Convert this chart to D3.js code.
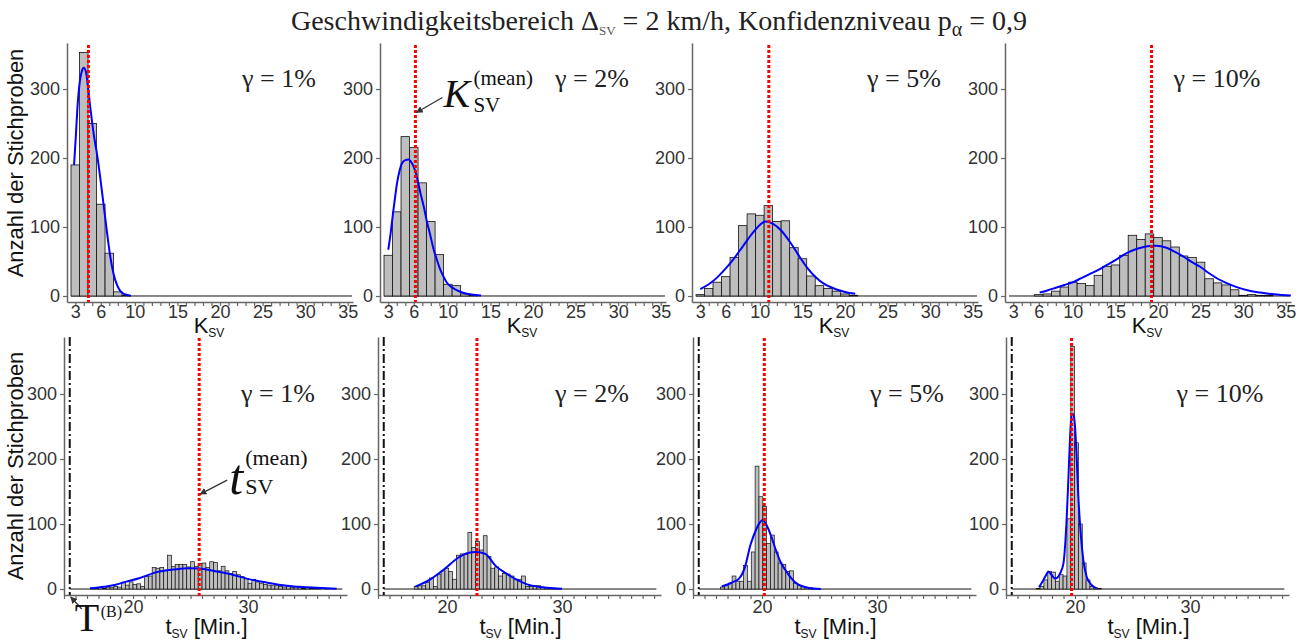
<!DOCTYPE html>
<html>
<head>
<meta charset="utf-8">
<script src="https://cdn.jsdelivr.net/npm/d3@7"></script>
<style>
  html, body { margin: 0; padding: 0; background: #fff; }
  svg { display: block; }
</style>
</head>
<body>
<svg id="chart" width="1311" height="641"></svg>
<script>
// ---------- data ----------
const gammaLabels = ["γ = 1%", "γ = 2%", "γ = 5%", "γ = 10%"];
const yTicks = [0, 100, 200, 300];
const kTickLabels = [3, 6, 10, 15, 20, 25, 30, 35];
const tTickLabels = [20, 30];

// K_SV histogram: bins of width 1 centred on these values
const kBins = [3,4,5,6,7,8,9,10,11,12,13,14,15,16,17,18,19,20,21,22,23,24,25,26,27,28,29,30,31,32,33,34,35];
const kCountsG1 = [190,353,250,133,62,6,1,0,0,0,0,0,0,0,0,0,0,0,0,0,0,0,0,0,0,0,0,0,0,0,0,0,0];
const kCountsG2 = [59,122,231,215,164,108,60,17,15,3,1,0,0,0,0,0,0,0,0,0,0,0,0,0,0,0,0,0,0,0,0,0,0];
const kCountsG3 = [2,11,20,28,56,102,119,117,131,108,109,70,54,29,15,11,7,3,1,0,0,0,0,0,0,0,0,0,0,0,0,0,0];
const kCountsG4 = [0,0,0,2,3,7,13,20,18,15,30,43,45,59,88,82,90,85,80,71,58,56,49,25,19,16,9,1,2,1,1,0,0];

// smoothed density curves (scaled to counts) for K_SV
const kCurveG1 = [[2.86,190],[3.05,228],[3.25,272],[3.55,312],[3.8,327],[4.0,331],[4.25,325],[4.5,302],[4.75,275],[5.0,250],[5.25,228],[5.5,210],[5.9,175],[6.3,135],[6.7,95],[7.1,58],[7.5,32],[7.9,16],[8.3,7],[8.8,2.5],[9.5,0.5]];
const kCurveG2 = [[3.0,67],[3.3,93],[3.55,119],[3.8,143],[4.05,165],[4.3,180],[4.6,192],[5.0,197],[5.4,198],[5.8,192],[6.15,182],[6.5,165],[6.8,148],[7.2,128],[7.5,110],[7.9,90],[8.3,69],[8.7,53],[9.05,40],[9.45,29],[9.85,20],[10.3,14],[10.8,10],[11.4,6.5],[12.0,4],[12.6,2.5],[13.3,1.3],[13.9,0.8]];
const kCurveG3 = [[3,10],[4,17],[5,27],[6,40],[7,55],[8,72],[9,89],[10,103],[10.65,108],[11.5,105],[12.5,95],[13.5,79],[14.5,60],[15.5,42],[16.5,28],[17.5,18],[18.5,12],[19.5,7.5],[20.5,4.5],[21.2,3.4]];
const kCurveG4 = [[6.1,5],[7,8],[8,12],[9,16],[10,20],[11,26],[12,32],[13,38],[14,45],[15,52],[16,60],[17,66],[18,70],[19,72.5],[19.8,73],[21,70],[22,64],[23,57],[24,49],[25,42],[26,33],[27,25],[28,19],[29,14],[30,10],[31,7],[32,5],[33,3.4],[34,2],[35,1],[35.6,0.6]];
const kMeans = [4.55, 6.19, 11.05, 19.24];
const kSpan = [2.5, 35.5];

// t_SV histogram: bins of 1/3 minute starting at tBinStart
const tBinWidth = 1 / 3;
const tBinStart = [16.0, 17.15, 16.4, 16.63];
const tCountsG1 = [0,1,1,2,1,3,2,4,3,10,6,11,7,8,4,19,20,33,32,33,29,52,35,38,38,38,34,42,35,39,40,33,42,41,28,35,28,24,27,22,19,16,9,15,11,9,7,6,5,5,4,3,4,2,3,2,1,2,1,1,1,0,1];
const tCountsG2 = [4,5,5,10,17,4,22,28,32,27,15,52,54,53,87,64,73,60,82,50,32,34,20,24,23,20,15,15,20,4,4,5,5,3,2,1,1,1];
const tCountsG3 = [3,5,9,20,12,12,36,12,57,189,142,127,70,83,57,40,38,27,28,9,5,4,2,2,1,1];
const tCountsG4 = [1,4,14,27,26,12,22,20,108,373,225,100,40,14,4,2,1];

const tCurveG1 = [[16.26,1],[17.5,3.5],[18.5,6.5],[19.16,10],[20.6,17],[22.06,26],[23.5,30],[24.9,32],[25.8,31.5],[26.98,28],[28.43,23],[29.88,16],[31.6,10],[33.37,5],[35.1,2.6],[36.84,1],[37.7,0.5]];
const tCurveG2 = [[17.24,3.6],[18.55,14.9],[19.85,31.8],[20.87,47],[21.74,55],[22.55,57],[23.33,54],[24.2,36],[25.22,23],[26.09,14],[26.96,7.2],[28.1,3.1],[29.27,1],[30.0,0.5]];
const tCurveG3 = [[16.5,4],[17.0,7],[17.5,11],[18.0,16],[18.5,33],[19.0,68],[19.5,92],[19.8,102],[20.05,106],[20.4,98],[20.8,81],[21.2,60],[21.6,42],[22.0,30],[22.4,20],[22.9,10],[23.4,5],[24.0,2],[24.5,0.8],[25.1,0.2]];
const tCurveG4 = [[16.87,2.6],[17.25,14],[17.5,22],[17.68,27],[17.97,21.5],[18.26,16],[18.5,18],[18.7,24],[18.99,39],[19.15,70],[19.28,111],[19.42,168],[19.57,234],[19.71,270],[19.86,268],[20.0,250],[20.14,204],[20.29,142],[20.52,80],[20.72,45],[21.01,19],[21.45,6],[21.88,1]];
const tMeans = [25.75, 22.6, 20.2, 19.7];
const tB = 14.5;
const tSpan = [14.5, 38.2];

// ---------- layout ----------
const serif = "'Liberation Serif','Times New Roman',serif";
const sans = "'Liberation Sans',Arial,sans-serif";
const topLeft = [67, 380, 692, 1005], topWidth = 286, topRows = [43, 302];
const botLeft = [64, 378, 693, 1006], botWidth = 283, botRows = [337, 595];
const kDomain = [2.03, 35.62];
const tDomain = [14.0, 38.6];
const yTopDomain = [-8.7, 366.7];
const yBotDomain = [-9.2, 387.7];

const svg = d3.select("#chart");
const defs = svg.append("defs");
defs.append("marker")
  .attr("id", "arrowHead").attr("viewBox", "0 0 10 10")
  .attr("refX", 9).attr("refY", 5)
  .attr("markerWidth", 7).attr("markerHeight", 7)
  .attr("markerUnits", "userSpaceOnUse")
  .attr("orient", "auto")
  .append("path").attr("d", "M0,0 L10,5 L0,10 z").attr("fill", "#333");

const kCounts = [kCountsG1, kCountsG2, kCountsG3, kCountsG4];
const kCurves = [kCurveG1, kCurveG2, kCurveG3, kCurveG4];
const tCounts = [tCountsG1, tCountsG2, tCountsG3, tCountsG4];
const tCurves = [tCurveG1, tCurveG2, tCurveG3, tCurveG4];

function drawAxes(g, x, y, rows, minorTicks, labelled, bottomLabelY) {
  const ax = g.append("g").attr("transform", `translate(${x.range()[0]},0)`)
    .call(d3.axisLeft(y).tickValues(yTicks).tickSize(4).tickSizeOuter(0).tickPadding(3));
  ax.select(".domain").attr("stroke", "#666").attr("stroke-width", 1.5);
  ax.selectAll(".tick line").attr("stroke", "#666").attr("stroke-width", 1.2);
  ax.selectAll(".tick text").attr("font-family", sans).attr("font-size", 18).attr("fill", "#333");

  const bx = g.append("g").attr("transform", `translate(0,${rows[1]})`)
    .call(d3.axisBottom(x).tickValues(minorTicks).tickSize(4).tickSizeOuter(0)
      .tickFormat(d => labelled.includes(d) ? d : ""));
  bx.select(".domain").attr("stroke", "#666").attr("stroke-width", 1.5);
  bx.selectAll(".tick line").attr("stroke", "#666").attr("stroke-width", 1.2);
  bx.selectAll(".tick text").attr("font-family", sans).attr("font-size", 18).attr("fill", "#333")
    .attr("y", bottomLabelY).attr("dy", 0);
}

const curveLine = (x, y) => d3.line().x(d => x(d[0])).y(d => y(d[1])).curve(d3.curveMonotoneX);

// ---------- top row: K_SV ----------
for (let i = 0; i < 4; i++) {
  const L = topLeft[i];
  const x = d3.scaleLinear().domain(kDomain).range([L, L + topWidth]);
  const y = d3.scaleLinear().domain(yTopDomain).range([topRows[1], topRows[0]]);
  const g = svg.append("g");

  drawAxes(g, x, y, topRows, kBins, kTickLabels, 16);

  // zero-count bins appear as the baseline
  g.append("line").attr("x1", x(kSpan[0])).attr("x2", x(kSpan[1]))
    .attr("y1", y(0)).attr("y2", y(0)).attr("stroke", "#111").attr("stroke-width", 1);

  const bars = kBins.map((c, j) => ({ x0: c - 0.5, x1: c + 0.5, n: kCounts[i][j] })).filter(d => d.n > 0);
  g.selectAll("rect.bar").data(bars).enter().append("rect")
    .attr("x", d => x(d.x0)).attr("width", d => x(d.x1) - x(d.x0))
    .attr("y", d => y(d.n)).attr("height", d => y(0) - y(d.n))
    .attr("fill", "#bebebe").attr("stroke", "#111").attr("stroke-width", 0.8);

  g.append("path").datum(kCurves[i]).attr("d", curveLine(x, y))
    .attr("fill", "none").attr("stroke", "#0000ff").attr("stroke-width", 2);

  g.append("line").attr("x1", x(kMeans[i])).attr("x2", x(kMeans[i]))
    .attr("y1", topRows[0] + 2).attr("y2", topRows[1])
    .attr("stroke", "#ff0000").attr("stroke-width", 3).attr("stroke-dasharray", "3,2");

  g.append("text").attr("x", L + 212).attr("y", 87).attr("text-anchor", "middle")
    .attr("font-family", serif).attr("font-size", 26).attr("fill", "#222").text(gammaLabels[i]);

  const kt = g.append("text").attr("x", L + topWidth / 2 - 1).attr("y", 333).attr("text-anchor", "middle")
    .attr("font-family", sans).attr("font-size", 22).attr("fill", "#111");
  kt.append("tspan").text("K");
  kt.append("tspan").attr("font-size", 12).attr("dy", 4).text("SV");
}

// ---------- bottom row: t_SV ----------
const tMinor = [14,15,16,17,18,19,20,21,22,23,24,25,26,27,28,29,30,31,32,33,34,35,36,37,38];
for (let i = 0; i < 4; i++) {
  const L = botLeft[i];
  const x = d3.scaleLinear().domain(tDomain).range([L, L + botWidth]);
  const y = d3.scaleLinear().domain(yBotDomain).range([botRows[1], botRows[0]]);
  const g = svg.append("g");

  drawAxes(g, x, y, botRows, tMinor, tTickLabels, 18);

  g.append("line").attr("x1", x(tSpan[0])).attr("x2", x(tSpan[1]))
    .attr("y1", y(0)).attr("y2", y(0)).attr("stroke", "#111").attr("stroke-width", 1);

  const bars = tCounts[i].map((n, j) => ({
    x0: tBinStart[i] + j * tBinWidth, x1: tBinStart[i] + (j + 1) * tBinWidth, n
  })).filter(d => d.n > 0);
  g.selectAll("rect.bar").data(bars).enter().append("rect")
    .attr("x", d => x(d.x0)).attr("width", d => x(d.x1) - x(d.x0))
    .attr("y", d => y(d.n)).attr("height", d => y(0) - y(d.n))
    .attr("fill", "#bebebe").attr("stroke", "#111").attr("stroke-width", 0.7);

  g.append("path").datum(tCurves[i]).attr("d", curveLine(x, y))
    .attr("fill", "none").attr("stroke", "#0000ff").attr("stroke-width", 2);

  g.append("line").attr("x1", x(tMeans[i])).attr("x2", x(tMeans[i]))
    .attr("y1", botRows[0] + 1).attr("y2", botRows[1] + 3)
    .attr("stroke", "#ff0000").attr("stroke-width", 3).attr("stroke-dasharray", "3,2");

  g.append("line").attr("x1", x(tB)).attr("x2", x(tB))
    .attr("y1", botRows[0]).attr("y2", botRows[1])
    .attr("stroke", "#111").attr("stroke-width", 2).attr("stroke-dasharray", "9,3,2,3");

  g.append("text").attr("x", L + 214).attr("y", 402).attr("text-anchor", "middle")
    .attr("font-family", serif).attr("font-size", 26).attr("fill", "#222").text(gammaLabels[i]);

  const tt = g.append("text").attr("x", L + botWidth / 2 + 1).attr("y", 634).attr("text-anchor", "middle")
    .attr("font-family", sans).attr("font-size", 22).attr("fill", "#111");
  tt.append("tspan").text("t");
  tt.append("tspan").attr("font-size", 12).attr("dy", 4).text("SV");
  tt.append("tspan").attr("dy", -4).text(" [Min.]");
}

// ---------- y-axis titles ----------
[[23, 163], [23, 466]].forEach(([px, py]) => {
  svg.append("text").attr("transform", `translate(${px},${py}) rotate(-90)`)
    .attr("text-anchor", "middle").attr("font-family", sans).attr("font-size", 22)
    .attr("fill", "#111").text("Anzahl der Stichproben");
});

// ---------- title ----------
const title = svg.append("text").attr("x", 659).attr("y", 30).attr("text-anchor", "middle")
  .attr("font-family", serif).attr("font-size", 28).attr("fill", "#222");
title.append("tspan").text("Geschwindigkeitsbereich Δ");
title.append("tspan").attr("font-size", 13).attr("dy", 5).attr("fill", "#555").text("SV");
title.append("tspan").attr("dy", -5).text(" = 2 km/h, Konfidenzniveau p");
title.append("tspan").attr("font-size", 20).attr("dy", 6).text("α");
title.append("tspan").attr("dy", -6).text(" = 0,9");

// ---------- annotations ----------
{
  // K_SV^(mean) pointing to the mean line of panel γ = 2%
  const x = d3.scaleLinear().domain(kDomain).range([topLeft[1], topLeft[1] + topWidth]);
  const y = d3.scaleLinear().domain(yTopDomain).range([topRows[1], topRows[0]]);
  const tipX = x(kMeans[1]), tipY = y(266);
  svg.append("line").attr("x1", tipX + 27).attr("y1", tipY - 15).attr("x2", tipX + 1).attr("y2", tipY)
    .attr("stroke", "#333").attr("stroke-width", 1.3).attr("marker-end", "url(#arrowHead)");
  const a = svg.append("g").attr("font-family", serif).attr("fill", "#111");
  a.append("text").attr("x", tipX + 28).attr("y", 107).attr("font-size", 40).attr("font-style", "italic").text("K");
  a.append("text").attr("x", tipX + 58).attr("y", 85).attr("font-size", 21).text("(mean)");
  a.append("text").attr("x", tipX + 58).attr("y", 112).attr("font-size", 21).text("SV");
}
{
  // t_SV^(mean) pointing to the mean line of panel γ = 1%
  const x = d3.scaleLinear().domain(tDomain).range([botLeft[0], botLeft[0] + botWidth]);
  const y = d3.scaleLinear().domain(yBotDomain).range([botRows[1], botRows[0]]);
  const tipX = x(tMeans[0]), tipY = y(146);
  svg.append("line").attr("x1", tipX + 28).attr("y1", tipY - 14).attr("x2", tipX + 1).attr("y2", tipY)
    .attr("stroke", "#333").attr("stroke-width", 1.3).attr("marker-end", "url(#arrowHead)");
  const a = svg.append("g").attr("font-family", serif).attr("fill", "#111");
  a.append("text").attr("x", tipX + 30).attr("y", 494).attr("font-size", 50).attr("font-style", "italic").text("t");
  a.append("text").attr("x", tipX + 46).attr("y", 465).attr("font-size", 22).text("(mean)");
  a.append("text").attr("x", tipX + 46).attr("y", 494).attr("font-size", 22).text("SV");

  // T^(B) marking the dash-dot reference line
  const bx = x(tB);
  svg.append("line").attr("x1", bx + 12).attr("y1", 609).attr("x2", bx + 1).attr("y2", 597)
    .attr("stroke", "#333").attr("stroke-width", 1.3).attr("marker-end", "url(#arrowHead)");
  svg.append("text").attr("x", bx + 5).attr("y", 631).attr("font-family", serif).attr("font-size", 40)
    .attr("fill", "#111").text("T");
  svg.append("text").attr("x", bx + 31).attr("y", 617).attr("font-family", serif).attr("font-size", 16)
    .attr("fill", "#111").text("(B)");
}
</script>
</body>
</html>
